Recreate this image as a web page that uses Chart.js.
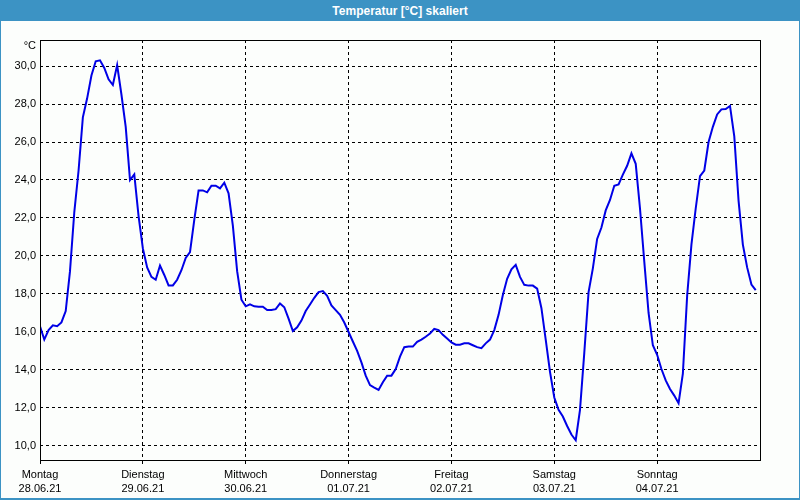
<!DOCTYPE html>
<html>
<head>
<meta charset="utf-8">
<script src="https://cdn.jsdelivr.net/npm/chart.js@4.4.1/dist/chart.umd.min.js"></script>
<style>
    html, body { margin: 0; padding: 0; background: #fcfefc; }
    #frame {
        position: relative;
        width: 800px;
        height: 500px;
        box-sizing: border-box;
        border: 1px solid #3c93c4;
        border-bottom-width: 2px;
        overflow: hidden;
    }
    #titlebar {
        position: absolute;
        left: 0; top: 0; right: 0;
        height: 20px;
        background: #3c93c4;
        color: #fff;
        font: bold 12px "Liberation Sans", Arial, sans-serif;
        text-align: center;
        line-height: 20px;
        z-index: 2;
    }
    #tempChart { position: absolute; left: -1px; top: -1px; }
</style>
</head>
<body>
<div id="frame">
    <div id="titlebar">Temperatur [°C] skaliert</div>
    <canvas id="tempChart" width="800" height="500"></canvas>
</div>
<script>
// hourly temperatures, Monday 00:00 .. Sunday 23:00
const temps = [
    16.3, 15.6, 16.1, 16.35, 16.3, 16.5, 17.1, 19.2, 22.3, 24.5, 27.3, 28.3, 29.5, 30.25, 30.3, 29.9, 29.3, 29.0, 30.05, 28.5, 26.8, 24.0, 24.3, 22.1,
    20.4, 19.4, 18.9, 18.75, 19.5, 19.0, 18.45, 18.45, 18.75, 19.25, 19.9, 20.2, 21.9, 23.45, 23.45, 23.35, 23.7, 23.7, 23.56, 23.86, 23.3, 21.6, 19.2, 17.7,
    17.35, 17.45, 17.35, 17.33, 17.33, 17.16, 17.16, 17.2, 17.5, 17.3, 16.7, 16.05, 16.25, 16.6, 17.1, 17.45, 17.8, 18.1, 18.15, 17.9, 17.4, 17.15, 16.9, 16.5,
    16.0, 15.5, 15.0, 14.4, 13.7, 13.2, 13.07, 12.95, 13.35, 13.7, 13.7, 14.05, 14.7, 15.2, 15.23, 15.23, 15.48, 15.6, 15.75, 15.92, 16.16, 16.1, 15.85, 15.65,
    15.45, 15.33, 15.33, 15.4, 15.4, 15.3, 15.2, 15.15, 15.4, 15.6, 16.1, 16.9, 17.95, 18.8, 19.3, 19.53, 18.9, 18.48, 18.44, 18.44, 18.28, 17.25, 15.6, 13.9,
    12.55, 11.9, 11.55, 11.05, 10.6, 10.3, 11.9, 14.9, 18.1, 19.35, 20.9, 21.5, 22.4, 22.95, 23.7, 23.77, 24.28, 24.75, 25.4, 24.85, 22.5, 19.7, 17.0, 15.3,
    14.8, 14.05, 13.45, 13.0, 12.65, 12.25, 13.8, 17.9, 20.6, 22.5, 24.2, 24.5, 26.0, 26.8, 27.45, 27.72, 27.74, 27.9, 26.3, 22.9, 20.6, 19.4, 18.5, 18.2
];
const hours = temps.map((t, i) => i);

const dayNames = ["Montag", "Dienstag", "Mittwoch", "Donnerstag", "Freitag", "Samstag", "Sonntag"];
const dates = ["28.06.21", "29.06.21", "30.06.21", "01.07.21", "02.07.21", "03.07.21", "04.07.21"];
const yTicks = [10, 12, 14, 16, 18, 20, 22, 24, 26, 28, 30];

const font = { family: "'Liberation Sans', Arial, sans-serif", size: 11 };

// solid frame around the plot area plus the unit label
const framePlugin = {
    id: "frame",
    afterDraw(chart) {
        const { ctx, chartArea: a } = chart;
        ctx.save();
        ctx.strokeStyle = "#000";
        ctx.lineWidth = 1;
        ctx.strokeRect(Math.round(a.left) + 0.5, Math.round(a.top) + 0.5,
            Math.round(a.right - a.left), Math.round(a.bottom - a.top));
        ctx.fillStyle = "#000";
        ctx.font = "11px " + font.family;
        ctx.textAlign = "right";
        ctx.textBaseline = "middle";
        ctx.fillText("°C", a.left - 4, a.top + 6);
        ctx.restore();
    },
};

new Chart(document.getElementById("tempChart"), {
    type: "line",
    data: {
        datasets: [
            {
                label: "Temperatur",
                data: hours.map((h, i) => ({ x: h, y: temps[i] })),
                borderColor: "#0000e6",
                borderWidth: 2,
                pointRadius: 0,
                tension: 0,
            },
        ],
    },
    options: {
        responsive: false,
        animation: false,
        layout: { padding: { top: 40, right: 40, left: 0, bottom: 0 } },
        plugins: { legend: { display: false }, tooltip: { enabled: false } },
        scales: {
            x: {
                type: "linear",
                min: 0,
                max: 168,
                afterBuildTicks(scale) {
                    scale.ticks = [0, 24, 48, 72, 96, 120, 144, 168].map((v) => ({ value: v }));
                },
                afterFit(scale) {
                    scale.height = 40;
                },
                ticks: {
                    color: "#000",
                    font: { ...font, lineHeight: 1.3 },
                    padding: 4,
                    maxRotation: 0,
                    autoSkip: false,
                    callback(value) {
                        const d = value / 24;
                        return d < dayNames.length ? [dayNames[d], dates[d]] : null;
                    },
                },
                grid: { color: "#000", tickColor: "#000", tickLength: 4, lineWidth: 1 },
                border: { display: false, dash: [3, 3] },
            },
            y: {
                min: 9.26,
                max: 31.37,
                afterBuildTicks(scale) {
                    scale.ticks = yTicks.map((v) => ({ value: v }));
                },
                afterFit(scale) {
                    scale.width = 40;
                },
                ticks: {
                    color: "#000",
                    font: font,
                    padding: 4,
                    callback(value) {
                        return value.toFixed(1).replace(".", ",");
                    },
                },
                grid: { color: "#000", drawTicks: false, lineWidth: 1 },
                border: { display: false, dash: [3, 3] },
            },
        },
    },
    plugins: [framePlugin],
});
</script>
</body>
</html>
